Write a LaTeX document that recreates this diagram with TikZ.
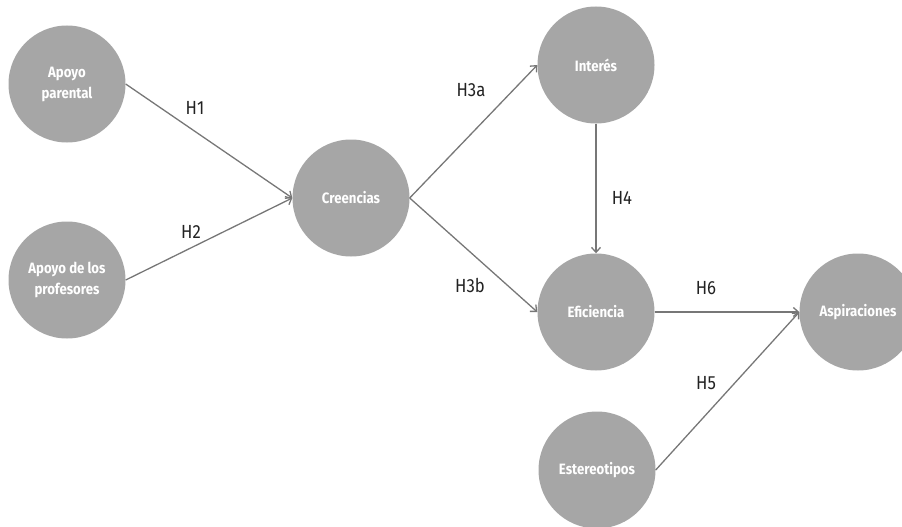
\documentclass[tikz,border=0pt]{standalone}
\usepackage{fontspec}
\setmainfont{Fira Sans}
\newfontfamily\narrowsans[FakeStretch=0.88]{Fira Sans}
\usetikzlibrary{arrows.meta}
\definecolor{nodegray}{HTML}{A6A6A6}
\definecolor{linegray}{HTML}{777777}
\definecolor{labelink}{HTML}{222222}
\begin{document}
\begin{tikzpicture}[x=1pt,y=-1pt,
  construct/.style={circle,fill=nodegray,draw=none,minimum size=117pt,inner sep=0pt,
    text=white,font=\narrowsans\fontsize{15}{21}\selectfont\bfseries,align=center},
  path/.style={draw=linegray,line width=1.3pt,-{Straight Barb[length=5pt,width=9pt,line width=1.3pt]}},
  hyp/.style={font=\narrowsans\fontsize{19}{22}\selectfont,text=labelink}]
\useasboundingbox (0,0) rectangle (902,527);
% constructs
\node[construct] (apoyo) at (67,84) {Apoyo\\parental};
\node[construct] (prof) at (67,280) {Apoyo de los\\profesores};
\node[construct] (cre) at (351,198) {Creencias};
\node[construct] (int) at (596,65) {Interés};
\node[construct] (efi) at (596,312) {Eficiencia};
\node[construct] (asp) at (858,312) {Aspiraciones};
\node[construct] (est) at (597,470) {Estereotipos};
% hypothesised paths
\draw[path] (apoyo.east) -- (cre.west);
\draw[path] (prof.east) -- (cre.west);
\draw[path] (cre.east) -- (int.west);
\draw[path] (cre.east) -- (efi.west);
\draw[path] (int.south) -- (efi.north);
\draw[path] (efi.east) -- (asp.west);
\draw[path] (est.east) -- (asp.west);
% labels
\node[hyp] (h1) at (195,108) {H1};
\node[hyp] (h2) at (191,232) {H2};
\node[hyp] (h3a) at (471,90) {H3a};
\node[hyp] (h3b) at (470,285) {H3b};
\node[hyp] (h4) at (622,198) {H4};
\node[hyp] (h6) at (706,288) {H6};
\node[hyp] (h5) at (706,383) {H5};
\end{tikzpicture}
\end{document}
